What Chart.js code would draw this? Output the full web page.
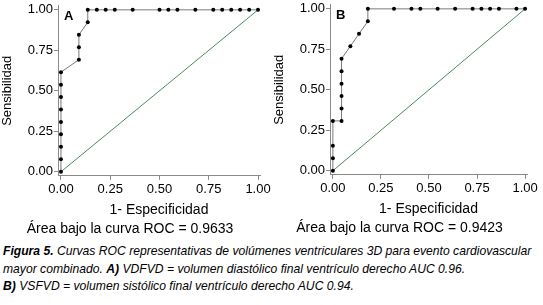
<!DOCTYPE html>
<html>
<head>
<meta charset="utf-8">
<script src="https://cdn.jsdelivr.net/npm/chart.js@4/dist/chart.umd.min.js"></script>
<style>
  body { margin: 0; background: #fff; width: 543px; height: 305px; overflow: hidden; position: relative; }
  canvas { position: absolute; }
  #rocA { left: 0; top: -3px; }
  #rocB { left: 272px; top: -4px; }
  #caption {
    position: absolute; left: 3px; top: 243px; width: 560px;
    font-family: "Liberation Sans", Arial, sans-serif; font-style: italic;
    font-size: 12.15px; line-height: 17.5px; color: #000; white-space: nowrap;
  }
  #caption b { font-weight: bold; }
</style>
</head>
<body>
<canvas id="rocA" width="275" height="241"></canvas>
<canvas id="rocB" width="271" height="241"></canvas>
<div id="caption">
  <b>Figura 5.</b> Curvas ROC representativas de volúmenes ventriculares 3D para evento cardiovascular<br>
  mayor combinado. <b>A)</b> VDFVD = volumen diastólico final ventrículo derecho AUC 0.96.<br>
  <b>B)</b> VSFVD = volumen sistólico final ventrículo derecho AUC 0.94.
</div>
<script>
// tick labels shared by both panels
const tickValues = [0, 0.25, 0.5, 0.75, 1];

// Panel A - VDFVD
const fprA = [0, 0, 0, 0, 0, 0, 0, 0, 0, 0.091, 0.091, 0.091, 0.136, 0.136,
  0.182, 0.227, 0.273, 0.364, 0.5, 0.545, 0.591, 0.682, 0.773, 0.818, 0.864, 0.909, 0.955, 1];
const tprA = [0, 0.077, 0.154, 0.231, 0.308, 0.385, 0.462, 0.538, 0.615, 0.692, 0.769, 0.846, 0.923, 1,
  1, 1, 1, 1, 1, 1, 1, 1, 1, 1, 1, 1, 1, 1];
const aucA = '0.9633';

// Panel B - VSFVD
const fprB = [0, 0, 0, 0, 0.045, 0.045, 0.045, 0.045, 0.045, 0.045, 0.091, 0.136, 0.182, 0.182,
  0.318, 0.409, 0.455, 0.545, 0.636, 0.727, 0.773, 0.818, 0.864, 0.955, 1];
const tprB = [0, 0.077, 0.154, 0.308, 0.308, 0.385, 0.462, 0.538, 0.615, 0.692, 0.769, 0.846, 0.923, 1,
  1, 1, 1, 1, 1, 1, 1, 1, 1, 1, 1];
const aucB = '0.9423';

// reference diagonal
const diagX = [0, 1];
const diagY = [0, 1];

const FONT = '"Liberation Sans", Arial, sans-serif';
const AXIS_GREY = '#8a8a8a';

// draws the panel letter in the upper-left corner
const panelLabel = {
    id: 'panelLabel',
    afterDraw(chart, args, opts) {
        const ctx = chart.ctx;
        ctx.save();
        ctx.font = 'bold 13px ' + FONT;
        ctx.fillStyle = '#000';
        ctx.textBaseline = 'middle';
        ctx.fillText(opts.text, chart.chartArea.left + 6, chart.chartArea.top + 11);
        ctx.restore();
    }
};

function toPoints(xs, ys) {
    return xs.map((x, i) => ({ x: x, y: ys[i] }));
}

function buildRoc(canvasId, letter, fpr, tpr, auc, rightPad) {
    const ctx = document.getElementById(canvasId).getContext('2d');
    const fixTicks = scale => { scale.ticks = tickValues.map(v => ({ value: v })); };

    return new Chart(ctx, {
        type: 'scatter',
        data: {
            datasets: [
                {
                    data: toPoints(fpr, tpr),
                    showLine: true,
                    borderColor: '#7a7a7a',
                    borderWidth: 1,
                    pointRadius: 2,
                    pointBackgroundColor: '#000',
                    pointBorderWidth: 0,
                    tension: 0
                },
                {
                    data: toPoints(diagX, diagY),
                    showLine: true,
                    borderColor: '#4a8a5c',
                    borderWidth: 1,
                    pointRadius: 0
                }
            ]
        },
        options: {
            responsive: false,
            animation: false,
            devicePixelRatio: 1,
            clip: false,
            layout: { padding: { left: 0, right: rightPad, top: 0, bottom: 0 } },
            plugins: {
                legend: { display: false },
                tooltip: { enabled: false },
                title: {
                    display: true,
                    position: 'bottom',
                    text: 'Área bajo la curva ROC = ' + auc,
                    color: '#000',
                    font: { family: FONT, size: 14, weight: 'normal' },
                    padding: { top: 3, bottom: 0 }
                },
                panelLabel: { text: letter }
            },
            scales: {
                x: {
                    type: 'linear',
                    min: -0.015,
                    max: 1.01,
                    afterBuildTicks: fixTicks,
                    grid: { display: true, drawOnChartArea: false, drawTicks: true, tickLength: 4, color: AXIS_GREY },
                    border: { display: true, color: AXIS_GREY, width: 1 },
                    ticks: {
                        color: '#000', padding: 2, maxRotation: 0, autoSkip: false,
                        font: { family: FONT, size: 13 },
                        callback: v => v.toFixed(2)
                    },
                    title: {
                        display: true, text: '1- Especificidad', color: '#000',
                        font: { family: FONT, size: 14 },
                        padding: { top: 2, bottom: 0 }
                    }
                },
                y: {
                    type: 'linear',
                    min: -0.025,
                    max: 1.025,
                    afterBuildTicks: fixTicks,
                    afterFit: scale => { scale.width = 58; },
                    grid: { display: true, drawOnChartArea: false, drawTicks: true, tickLength: 4, color: AXIS_GREY },
                    border: { display: true, color: AXIS_GREY, width: 1 },
                    ticks: {
                        color: '#000', padding: 1, autoSkip: false,
                        font: { family: FONT, size: 13 },
                        callback: v => v.toFixed(2)
                    },
                    title: {
                        display: true, text: 'Sensibilidad', color: '#000',
                        font: { family: FONT, size: 13 },
                        padding: { top: 0, bottom: 0 }
                    }
                }
            }
        },
        plugins: [panelLabel]
    });
}

buildRoc('rocA', 'A', fprA, tprA, aucA, 15);
buildRoc('rocB', 'B', fprB, tprB, aucB, 16);
</script>
</body>
</html>
